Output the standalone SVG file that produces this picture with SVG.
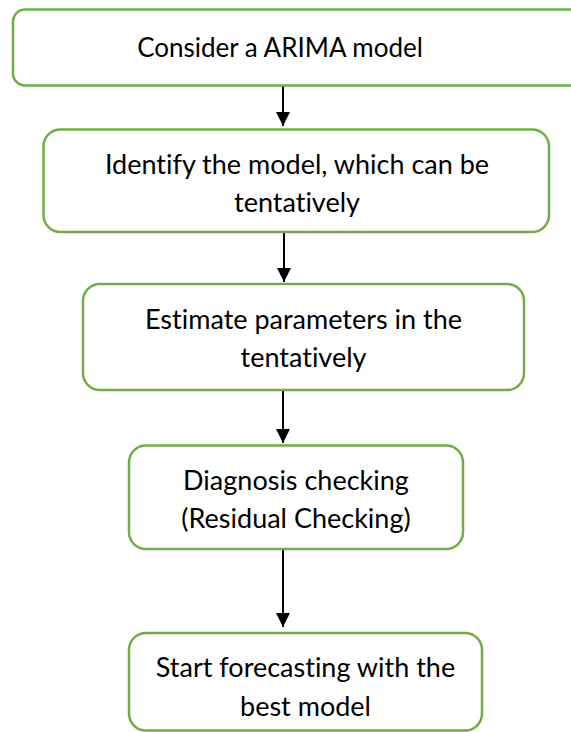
<svg xmlns="http://www.w3.org/2000/svg" width="571" height="732" viewBox="0 0 571 732">
<defs>
<style>
.box{fill:#fff;stroke:#70AD47;stroke-width:2.5}
.t{font-family:Lato,"Open Sans",sans-serif;font-size:27px;fill:#000;text-anchor:middle;font-variant-ligatures:none;font-feature-settings:"liga" 0}
.c{stroke:#000;stroke-width:2;fill:none}
</style>
<marker id="ah" markerWidth="14" markerHeight="15" refX="14" refY="7" orient="auto" markerUnits="userSpaceOnUse" viewBox="0 0 14 14">
<path d="M0,0 L14,7 L0,14 z" fill="#000"/>
</marker>
</defs>
<rect width="571" height="732" fill="#fff"/>
<g id="connectors">
<line class="c" x1="283" y1="86" x2="283" y2="126" marker-end="url(#ah)"/>
<line class="c" x1="284" y1="233" x2="284" y2="282" marker-end="url(#ah)"/>
<line class="c" x1="283" y1="391" x2="283" y2="443" marker-end="url(#ah)"/>
<line class="c" x1="283" y1="550" x2="283" y2="627" marker-end="url(#ah)"/>
</g>
<g id="n1">
<rect class="box" x="13" y="9.5" width="572" height="76" rx="12"/>
<text class="t" x="280" y="57" style="font-size:26px">Consider a ARIMA model</text>
</g>
<g id="n2">
<rect class="box" x="43.5" y="129.5" width="505.5" height="102.5" rx="17"/>
<text class="t" x="297" y="174">Identify the model, which can be</text>
<text class="t" x="297" y="212">tentatively</text>
</g>
<g id="n3">
<rect class="box" x="83" y="284" width="441" height="106" rx="17"/>
<text class="t" x="303.5" y="329">Estimate parameters in the</text>
<text class="t" x="303.5" y="367">tentatively</text>
</g>
<g id="n4">
<rect class="box" x="129" y="445.5" width="334" height="103.5" rx="17"/>
<text class="t" x="296" y="490">Diagnosis checking</text>
<text class="t" x="296" y="528">(Residual Checking)</text>
</g>
<g id="n5">
<rect class="box" x="129" y="633" width="353" height="97.5" rx="17"/>
<text class="t" x="305.5" y="677">Start forecasting with the</text>
<text class="t" x="305.5" y="716">best model</text>
</g>
</svg>
